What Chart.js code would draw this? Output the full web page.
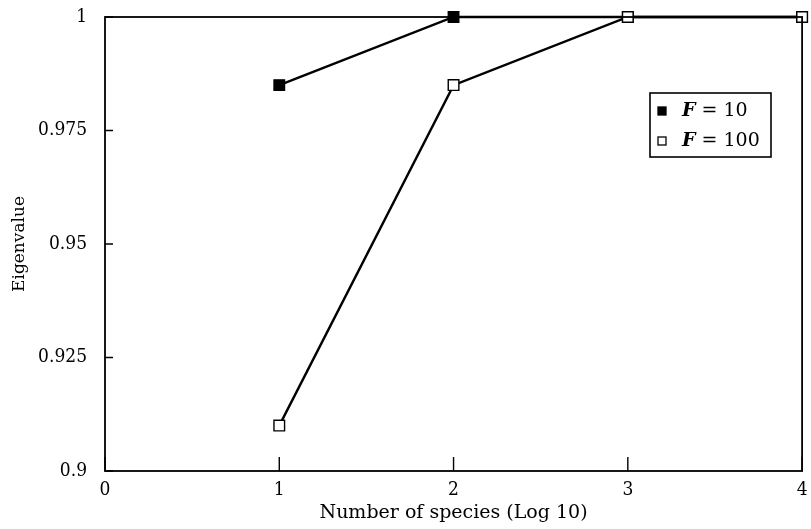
<!DOCTYPE html>
<html>
<head>
<meta charset="utf-8">
<script src="https://cdn.jsdelivr.net/npm/chart.js@4/dist/chart.umd.min.js"></script>
<style>
  html, body { margin: 0; padding: 0; background: #fff; }
  canvas { display: block; }
</style>
</head>
<body>
<canvas id="eigenChart" width="811" height="529"></canvas>
<script>
var speciesLog = [1, 2, 3, 4];
var eigenF10 = [0.985, 1.0, 1.0, 1.0];
var eigenF100 = [0.91, 0.985, 1.0, 1.0];
var seriesNames = ['10', '100'];
var xTicks = [0, 1, 2, 3, 4];
var yTicks = [0.9, 0.925, 0.95, 0.975, 1];

var serif = "'DejaVu Serif', serif";
var serifNarrow = "'DejaVu Serif Condensed', 'DejaVu Serif', serif";

function toPoints(xs, ys) {
  return xs.map(function (x, i) { return { x: x, y: ys[i] }; });
}

// frame, inward ticks and the boxed legend
var framePlugin = {
  id: 'frame',
  afterDatasetsDraw: function (chart) {
    var ctx = chart.ctx, a = chart.chartArea;
    var xs = chart.scales.x, ys = chart.scales.y;
    ctx.save();
    ctx.strokeStyle = '#000';
    ctx.lineWidth = 1.8;
    ctx.strokeRect(a.left, a.top, a.right - a.left, a.bottom - a.top);
    ctx.lineWidth = 1.4;
    ctx.beginPath();
    xTicks.forEach(function (v) {
      var px = xs.getPixelForValue(v);
      ctx.moveTo(px, a.bottom);
      ctx.lineTo(px, a.bottom - 14);
    });
    yTicks.forEach(function (v) {
      var py = ys.getPixelForValue(v);
      ctx.moveTo(a.left, py);
      ctx.lineTo(a.left + 8, py);
    });
    ctx.stroke();

    // legend box
    var bx = 650, by = 93, bw = 121, bh = 64;
    ctx.fillStyle = '#fff';
    ctx.fillRect(bx, by, bw, bh);
    ctx.lineWidth = 1.6;
    ctx.strokeRect(bx, by, bw, bh);
    chart.data.datasets.slice().sort(function (p, q) { return q.order - p.order; }).forEach(function (ds, i) {
      var cy = by + 18 + i * 30;
      ctx.lineWidth = 1.3;
      ctx.fillStyle = ds.pointBackgroundColor;
      ctx.fillRect(658, cy - 4, 8, 8);
      ctx.strokeRect(658, cy - 4, 8, 8);
      ctx.fillStyle = '#000';
      ctx.textBaseline = 'middle';
      ctx.font = 'italic bold 19px ' + serif;
      ctx.fillText('F', 682, cy);
      var w = ctx.measureText('F').width;
      ctx.font = '19px ' + serif;
      ctx.fillText(' = ' + ds.label, 682 + w, cy);
    });
    ctx.restore();
  }
};

new Chart(document.getElementById('eigenChart'), {
  type: 'line',
  data: {
    datasets: [{
      label: seriesNames[0],
      data: toPoints(speciesLog, eigenF10),
      borderColor: '#000',
      borderWidth: 2.4,
      pointStyle: 'rect',
      pointRadius: 7.5,
      pointBorderWidth: 1.3,
      pointBorderColor: '#000',
      pointBackgroundColor: '#000',
      order: 2,
      clip: false
    }, {
      label: seriesNames[1],
      data: toPoints(speciesLog, eigenF100),
      borderColor: '#000',
      borderWidth: 2.4,
      pointStyle: 'rect',
      pointRadius: 7.5,
      pointBorderWidth: 1.4,
      pointBorderColor: '#000',
      pointBackgroundColor: '#fff',
      order: 1,
      clip: false
    }]
  },
  options: {
    responsive: false,
    animation: false,
    devicePixelRatio: 1,
    layout: { padding: { top: 17, right: 1, left: 0, bottom: 0 } },
    plugins: {
      legend: { display: false },
      tooltip: { enabled: false }
    },
    scales: {
      x: {
        type: 'linear',
        min: 0,
        max: 4,
        grid: { display: false, drawTicks: false },
        border: { display: false },
        ticks: {
          stepSize: 1,
          padding: 8,
          color: '#000',
          font: { family: serifNarrow, size: 19 }
        },
        title: {
          display: true,
          text: 'Number of species (Log 10)',
          color: '#000',
          font: { family: serif, size: 19 },
          padding: { top: 0, bottom: 5 }
        },
        afterFit: function (scale) {
          scale.height = 58;
          scale.paddingLeft = 0;
          scale.paddingRight = 0;
        }
      },
      y: {
        min: 0.9,
        max: 1,
        grid: { display: false, drawTicks: false },
        border: { display: false },
        ticks: {
          stepSize: 0.025,
          padding: 18,
          color: '#000',
          font: { family: serifNarrow, size: 19 },
          callback: function (v) { return String(Number(v.toFixed(3))); }
        },
        title: {
          display: true,
          text: 'Eigenvalue',
          color: '#000',
          font: { family: serif, size: 17 },
          padding: { top: 9, bottom: 0 }
        },
        afterFit: function (scale) {
          scale.width = 105;
          scale.paddingTop = 0;
          scale.paddingBottom = 0;
        }
      }
    }
  },
  plugins: [framePlugin]
});
</script>
</body>
</html>
